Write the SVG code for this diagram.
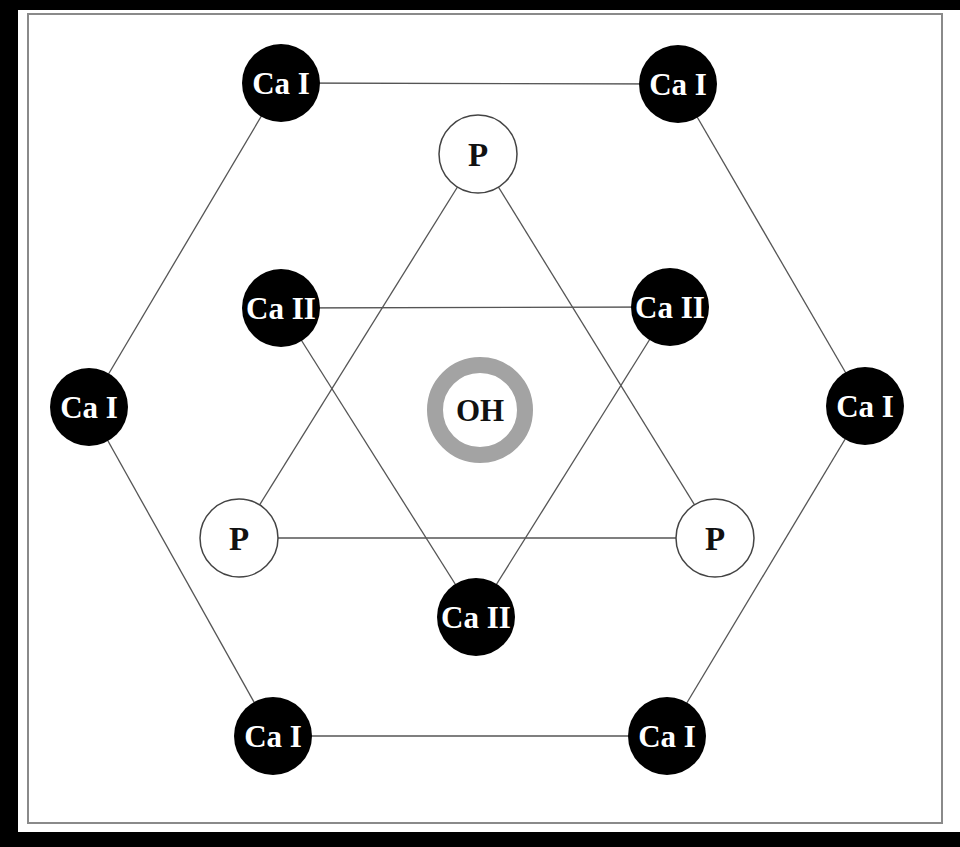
<svg xmlns="http://www.w3.org/2000/svg" width="960" height="847" viewBox="0 0 960 847">
<style>
.edge{stroke:#555;stroke-width:1.3;fill:none}
.ca{fill:#000}
.p{fill:#fff;stroke:#444;stroke-width:1.5}
.t{font-family:"Liberation Serif","Times New Roman",serif;font-weight:bold;font-size:31px;text-anchor:middle}
.tw{fill:#fff}
.tb{fill:#111}
</style>
<rect x="0" y="0" width="960" height="847" fill="#000"/>
<rect x="18" y="10" width="942" height="822" fill="#fff"/>
<rect x="28" y="14" width="914" height="809" fill="none" stroke="#8a8a8a" stroke-width="2"/>
<g id="connectors">
<line class="edge" x1="281" y1="83" x2="678" y2="84"/>
<line class="edge" x1="678" y1="84" x2="865" y2="406"/>
<line class="edge" x1="865" y1="406" x2="667" y2="736"/>
<line class="edge" x1="667" y1="736" x2="273" y2="736"/>
<line class="edge" x1="273" y1="736" x2="89" y2="407"/>
<line class="edge" x1="89" y1="407" x2="281" y2="83"/>
<line class="edge" x1="478" y1="154" x2="239" y2="538"/>
<line class="edge" x1="478" y1="154" x2="715" y2="538"/>
<line class="edge" x1="239" y1="538" x2="715" y2="538"/>
<line class="edge" x1="281" y1="308" x2="670" y2="307"/>
<line class="edge" x1="281" y1="308" x2="476" y2="617"/>
<line class="edge" x1="670" y1="307" x2="476" y2="617"/>
</g>
<g id="ca1-tl"><circle class="ca" cx="281" cy="83" r="39"/><text class="t tw" x="281" y="94">Ca I</text></g>
<g id="ca1-tr"><circle class="ca" cx="678" cy="84" r="39"/><text class="t tw" x="678" y="95">Ca I</text></g>
<g id="ca1-l"><circle class="ca" cx="89" cy="407" r="39"/><text class="t tw" x="89" y="418">Ca I</text></g>
<g id="ca1-r"><circle class="ca" cx="865" cy="406" r="39"/><text class="t tw" x="865" y="417">Ca I</text></g>
<g id="ca1-bl"><circle class="ca" cx="273" cy="736" r="39"/><text class="t tw" x="273" y="747">Ca I</text></g>
<g id="ca1-br"><circle class="ca" cx="667" cy="736" r="39"/><text class="t tw" x="667" y="747">Ca I</text></g>
<g id="ca2-l"><circle class="ca" cx="281" cy="308" r="39"/><text class="t tw" x="281" y="319">Ca II</text></g>
<g id="ca2-r"><circle class="ca" cx="670" cy="307" r="39"/><text class="t tw" x="670" y="318">Ca II</text></g>
<g id="ca2-b"><circle class="ca" cx="476" cy="617" r="39"/><text class="t tw" x="476" y="628">Ca II</text></g>
<g id="p-t"><circle class="p" cx="478" cy="154" r="39"/><text class="t tb" x="478" y="166" style="font-size:33px">P</text></g>
<g id="p-l"><circle class="p" cx="239" cy="538" r="39"/><text class="t tb" x="239" y="550" style="font-size:33px">P</text></g>
<g id="p-r"><circle class="p" cx="715" cy="538" r="39"/><text class="t tb" x="715" y="550" style="font-size:33px">P</text></g>
<g id="oh"><circle cx="480" cy="410" r="45" fill="#fff" stroke="#a3a3a3" stroke-width="16"/><text class="t tb" x="480" y="421">OH</text></g>
</svg>
